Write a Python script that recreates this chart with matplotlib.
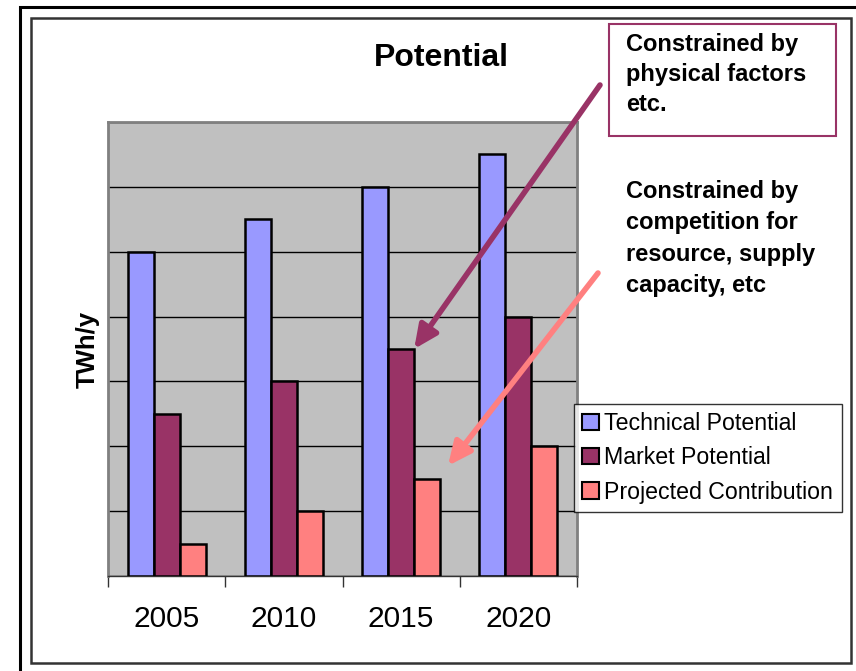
import matplotlib
matplotlib.use("Agg")
import matplotlib.pyplot as plt
import numpy as np
from matplotlib.patches import Rectangle

plt.rcParams['font.family'] = ['Liberation Sans', 'DejaVu Sans']

years = ['2005', '2010', '2015', '2020']
technical = [5.0, 5.5, 6.0, 6.5]
market = [2.5, 3.0, 3.5, 4.0]
projected = [0.5, 1.0, 1.5, 2.0]
series_names = ['Technical Potential', 'Market Potential', 'Projected Contribution']
colors = ['#9999FF', '#993366', '#FF8080']

W, H = 856, 671
fig = plt.figure(figsize=(W / 100, H / 100), dpi=100)

def fx(px):
    return px / W

def fy(py):
    return 1 - py / H

# frames
fig.patches.append(Rectangle((fx(20), fy(700)), fx(900) - fx(20), fy(7) - fy(700),
                             transform=fig.transFigure, fill=False, edgecolor='black', lw=2.2))
fig.patches.append(Rectangle((fx(31), fy(663)), fx(851) - fx(31), fy(18) - fy(663),
                             transform=fig.transFigure, fill=False, edgecolor='#333333', lw=1.8))

ax = fig.add_axes([fx(108), fy(576), fx(577) - fx(108), fy(122) - fy(576)])
ax.set_facecolor('#C0C0C0')

x = np.arange(len(years))
bw = 1 / 4.5
for i, (vals, c, name) in enumerate(zip([technical, market, projected], colors, series_names)):
    ax.bar(x + (i - 1) * bw, vals, bw, color=c, edgecolor='black', linewidth=1.8,
           label=name, zorder=3)

ax.set_xlim(-0.5, len(years) - 0.5)
ax.set_ylim(0, 7)
ax.set_yticks(np.arange(0, 8, 1))
ax.yaxis.grid(True, color='black', lw=1.0, zorder=1)
ax.tick_params(axis='y', length=0, labelleft=False)
ax.set_xticks(x)
ax.set_xticklabels(years, fontsize=21.5)
ax.set_xticks(np.arange(-0.5, len(years), 1), minor=True)
ax.tick_params(axis='x', which='major', length=0, pad=21)
ax.tick_params(axis='x', which='minor', length=8, width=1, color='#333333', direction='out')
for s in ['left', 'right', 'top']:
    ax.spines[s].set_color('#808080')
    ax.spines[s].set_linewidth(2)
ax.spines['bottom'].set_color('#333333')
ax.spines['bottom'].set_linewidth(1)

ax.set_ylabel('TWh/y', fontsize=18.5, fontweight='bold', labelpad=6)

fig.text(fx(441), fy(58), 'Potential', fontsize=23, fontweight='bold', ha='center', va='center')

leg = ax.legend(loc='upper left', bbox_to_anchor=(fx(574), fy(404)),
                bbox_transform=fig.transFigure, fontsize=16.7, frameon=True,
                fancybox=False, edgecolor='black', handlelength=0.7, handleheight=0.7,
                handletextpad=0.25, borderpad=0.36, labelspacing=0.48, borderaxespad=0)
leg.get_frame().set_linewidth(1)
for h in leg.legend_handles:
    h.set_linewidth(1.5)

# box annotation
fig.patches.append(Rectangle((fx(609), fy(136)), fx(836) - fx(609), fy(24) - fy(136),
                             transform=fig.transFigure, fill=True, facecolor='white',
                             edgecolor='#993366', lw=1.5, zorder=5))
fig.text(fx(626), fy(33), 'Constrained by\nphysical factors\netc.', fontsize=17,
         fontweight='bold', ha='left', va='top', linespacing=1.38, zorder=6)

fig.text(fx(626), fy(180), 'Constrained by\ncompetition for\nresource, supply\ncapacity, etc',
         fontsize=17, fontweight='bold', ha='left', va='top', linespacing=1.46)

# arrows
ax.annotate('', xy=(2 + bw / 2, 3.5), xycoords='data',
            xytext=(fx(600), fy(85)), textcoords='figure fraction',
            arrowprops=dict(arrowstyle='-|>,head_length=1.4,head_width=0.65',
                            color='#993366', lw=4, shrinkA=0, shrinkB=0),
            annotation_clip=False, zorder=6)
ax.annotate('', xy=(2.4, 1.7), xycoords='data',
            xytext=(fx(598), fy(273)), textcoords='figure fraction',
            arrowprops=dict(arrowstyle='-|>,head_length=1.4,head_width=0.65',
                            color='#FF8080', lw=4, shrinkA=0, shrinkB=0),
            annotation_clip=False, zorder=6)

fig.savefig('out.png', dpi=100)
